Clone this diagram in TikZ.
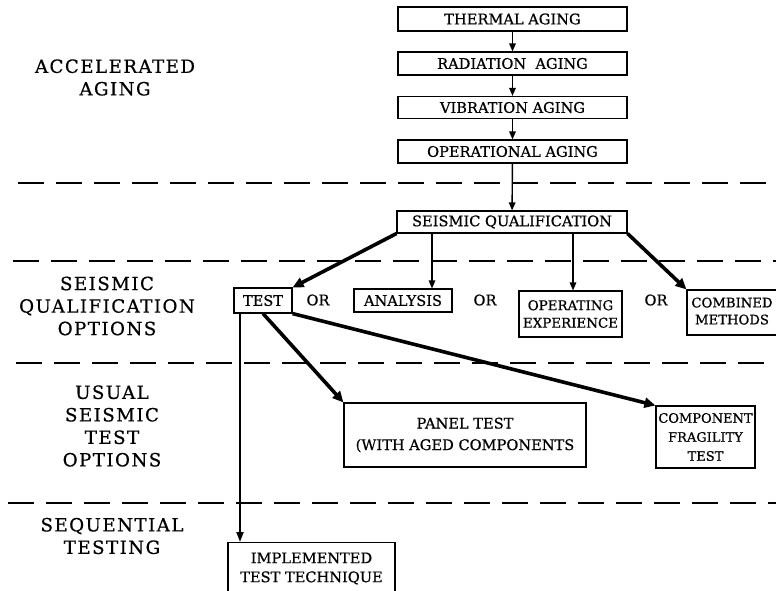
\documentclass[tikz,border=0pt]{standalone}
\usepackage{fontspec}
\setmainfont{DejaVu Serif}[FakeBold=0.6]
\newfontfamily\lblfont{DejaVu Serif}[LetterSpace=8,FakeBold=0.6]
\usetikzlibrary{arrows.meta}
\begin{document}
\begin{tikzpicture}[x=1pt,y=-1pt,
  box/.style={draw, line width=1.1pt, inner sep=0pt, align=center, font=\fontsize{14.6}{17}\selectfont},
  smallbox/.style={box, font=\fontsize{13.4}{17.5}\selectfont},
  orlbl/.style={font=\fontsize{14.6}{17}\selectfont, inner sep=0pt},
  side/.style={align=center, inner sep=0pt, font=\lblfont\fontsize{18.2}{22.5}\selectfont},
  thinarr/.style={line width=1.4pt, -{Triangle[length=8pt,width=6.5pt]}},
  thickarr/.style={line width=3.6pt, -{Triangle[length=11pt,width=10pt]}},
  dline/.style={line width=1.8pt, dash pattern=on 26pt off 12pt}]
\useasboundingbox (0,0) rectangle (776,591);
\fill[white] (0,0) rectangle (776,591);

% dashed separators
\draw[dline] (18,183) -- (776,183);
\draw[dline] (13,261) -- (776,261);
\draw[dline] (16,363) -- (776,363);
\draw[dline] (8,503) -- (776,503);

% side labels
\node[side] (acc) at (115,77.5) {ACCELERATED\\AGING};
\node[side] (sqo) at (107,306) {SEISMIC\\QUALIFICATION\\OPTIONS};
\node[side] (ust) at (112,426) {USUAL\\SEISMIC\\TEST\\OPTIONS};
\node[side] (seq) at (112,536) {SEQUENTIAL\\TESTING};

% aging chain
\node[box, minimum width=229pt, minimum height=24pt] (thermal) at (512.5,19) {THERMAL AGING};
\node[box, minimum width=229pt, minimum height=23pt] (radiation) at (512.5,63.5) {RADIATION\ \ AGING};
\node[box, minimum width=229pt, minimum height=22pt] (vibration) at (512.5,107.5) {VIBRATION AGING};
\node[box, minimum width=229pt, minimum height=23pt] (operational) at (512.5,151.5) {OPERATIONAL AGING};
\node[box, minimum width=230pt, minimum height=22pt] (sq) at (512,222) {SEISMIC\ QUALIFICATION};

% options
\node[box, minimum width=58pt, minimum height=25pt] (test) at (263,300.5) {TEST};
\node[orlbl] (or1) at (318,300) {OR};
\node[box, minimum width=98pt, minimum height=23pt] (analysis) at (403,300.5) {ANALYSIS};
\node[orlbl] (or2) at (485,300) {OR};
\node[smallbox, minimum width=103pt, minimum height=46pt] (operating) at (570.5,314) {OPERATING\\EXPERIENCE};
\node[orlbl] (or3) at (656,300) {OR};
\node[draw, line width=1.1pt, inner sep=0pt, minimum width=100pt, minimum height=45pt, font=\fontsize{13.2}{17}\selectfont] (combined) at (737,312.5) {\begin{tabular}{@{}c@{}}COMBINED\\METHODS\end{tabular}\hspace*{10pt}};

% test options
\node[box, minimum width=242pt, minimum height=64pt, font=\fontsize{14.6}{21.5}\selectfont] (panel) at (465,435) {PANEL TEST\\(WITH AGED COMPONENTS};
\node[box, minimum width=99pt, minimum height=62pt, font=\fontsize{13}{19}\selectfont] (component) at (705.5,437) {COMPONENT\\FRAGILITY\\TEST};
\node[box, minimum width=167pt, inner ysep=10pt, anchor=north, font=\fontsize{14.6}{19}\selectfont] (impl) at (311.5,542) {IMPLEMENTED\\TEST TECHNIQUE\\[4pt]\phantom{X}\\\phantom{X}};

% connectors
\coordinate (a1) at (432,0);
\coordinate (a2) at (573,0);
\coordinate (a3) at (240,0);
\draw[thinarr] (thermal) -- (radiation);
\draw[thinarr] (radiation) -- (vibration);
\draw[thinarr] (vibration) -- (operational);
\draw[thinarr] (operational) -- (sq);
\draw[thickarr] (sq.south west) -- (test.north east);
\draw[thinarr] (sq.south -| a1) -- (analysis.north -| a1);
\draw[thinarr] (sq.south -| a2) -- (operating.north -| a2);
\draw[thickarr] (sq.south east) -- (combined.north west);
\draw[line width=2pt, -{Triangle[length=10pt,width=7pt]}] (test.south -| a3) -- (impl.north -| a3);
\draw[thickarr] (test.south) -- (panel.north west);
\draw[thickarr] (test.south east) -- (component.north west);
\end{tikzpicture}
\end{document}
